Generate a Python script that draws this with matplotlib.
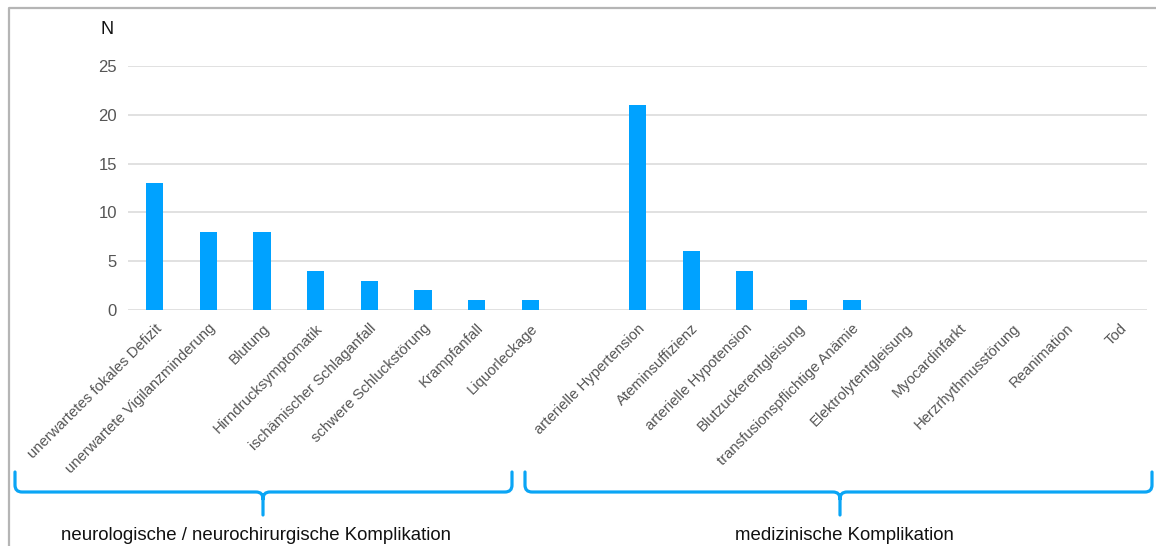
import matplotlib
matplotlib.use("Agg")
import matplotlib.pyplot as plt
import numpy as np
from matplotlib.path import Path
from matplotlib.patches import PathPatch
from matplotlib.lines import Line2D

plt.rcParams["font.family"] = ["Liberation Sans", "DejaVu Sans"]

# Komplikationen, in zwei Gruppen
neuro_labels = ["unerwartetes fokales Defizit", "unerwartete Vigilanzminderung", "Blutung",
                "Hirndrucksymptomatik", "ischämischer Schlaganfall", "schwere Schluckstörung",
                "Krampfanfall", "Liquorleckage"]
neuro_values = [13, 8, 8, 4, 3, 2, 1, 1]

med_labels = ["arterielle Hypertension", "Ateminsuffizienz", "arterielle Hypotension",
              "Blutzuckerentgleisung", "transfusionspflichtige Anämie", "Elektrolytentgleisung",
              "Myocardinfarkt", "Herzrhythmusstörung", "Reanimation", "Tod"]
med_values = [21, 6, 4, 1, 1, 0, 0, 0, 0, 0]

group_names = ["neurologische / neurochirurgische Komplikation", "medizinische Komplikation"]
y_ticks = [0, 5, 10, 15, 20, 25]

W, H = 1156, 546
BAR = "#00a2ff"
BRACE = "#0aa5f5"

# eine leere Position zwischen den Gruppen
x_neuro = np.arange(len(neuro_labels))
x_med = np.arange(len(med_labels)) + len(neuro_labels) + 1
xs = np.concatenate([x_neuro, x_med])
labels = neuro_labels + med_labels
values = neuro_values + med_values

fig = plt.figure(figsize=(W / 100, H / 100), dpi=100)
ax = fig.add_axes([128 / W, 1 - 310 / H, (1147 - 128) / W, (310 - 66) / H])

ax.bar(xs, values, width=0.32, color=BAR, zorder=3)
ax.set_xlim(-0.5, xs[-1] + 0.5)
ax.set_ylim(0, 25)
ax.set_yticks(y_ticks)
ax.yaxis.grid(True, color="#d9d9d9", linewidth=1.1)
ax.set_axisbelow(True)
for s in ax.spines.values():
    s.set_visible(False)
ax.tick_params(axis="y", length=0, pad=8, labelsize=12, labelcolor="#555555")
ax.tick_params(axis="x", length=0, pad=8, labelsize=10.7, labelcolor="#555555")
ax.set_xticks(xs)
ax.set_xticklabels(labels, rotation=45, ha="right", va="top", rotation_mode="anchor")

fig.text(107 / W, 1 - 30 / H, "N", ha="center", va="center", fontsize=13, color="#111111")

# grauer Rahmen links und oben
fig.add_artist(Line2D([9 / W, 9 / W, 1.0], [0.0, 1 - 8 / H, 1 - 8 / H],
                      transform=fig.transFigure, color="#b5b5b5", linewidth=1.6))


def brace(x0, x1, xc, ytop=472, ymid=492, ybot=515, r=7):
    pts = [(x0, ytop), (x0, ymid - r), (x0, ymid), (x0 + r, ymid),
           (xc - r, ymid), (xc, ymid), (xc, ymid + r), (xc, ybot),
           (xc, ymid + r), (xc, ymid), (xc + r, ymid),
           (x1 - r, ymid), (x1, ymid), (x1, ymid - r), (x1, ytop)]
    codes = [Path.MOVETO, Path.LINETO, Path.CURVE3, Path.CURVE3,
             Path.LINETO, Path.CURVE3, Path.CURVE3, Path.LINETO,
             Path.MOVETO, Path.CURVE3, Path.CURVE3,
             Path.LINETO, Path.CURVE3, Path.CURVE3, Path.LINETO]
    pts = [(px / W, 1 - py / H) for px, py in pts]
    fig.add_artist(PathPatch(Path(pts, codes), transform=fig.transFigure, fill=False,
                             edgecolor=BRACE, linewidth=2.3, capstyle="round"))


brace(15, 512, 263)
brace(525, 1152, 840)
fig.text(256 / W, 1 - 535 / H, group_names[0], ha="center", va="center", fontsize=13.4, color="#111111")
fig.text(844 / W, 1 - 535 / H, group_names[1], ha="center", va="center", fontsize=13.4, color="#111111")

fig.savefig("out.png", dpi=100, facecolor="white")
